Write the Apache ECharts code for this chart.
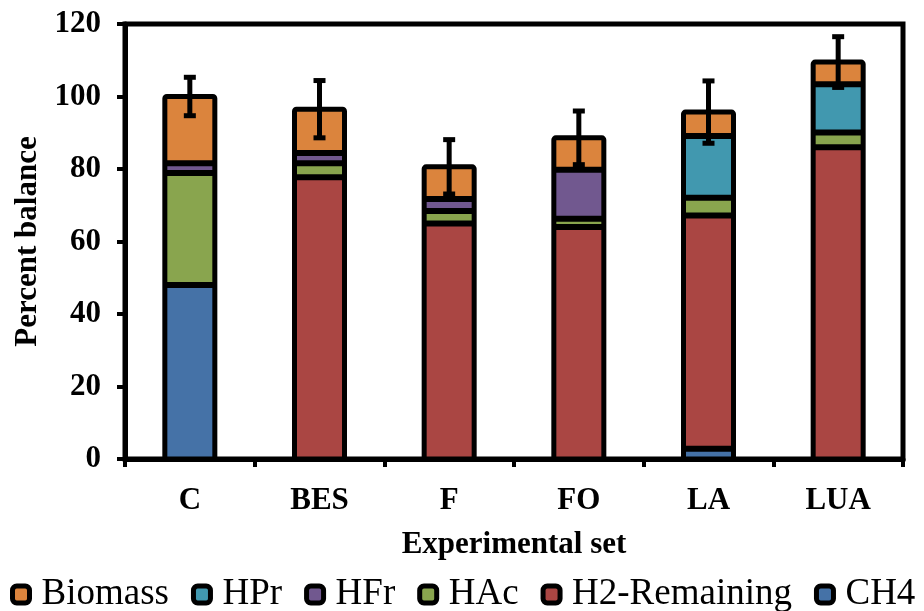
<!DOCTYPE html>
<html>
<head>
<meta charset="utf-8">
<script src="https://cdn.jsdelivr.net/npm/echarts@6/dist/echarts.min.js"></script>
<style>
  html, body { margin: 0; padding: 0; background: #fff; }
  #chart { width: 924px; height: 611px; }
</style>
</head>
<body>
<div id="chart"></div>
<script>
// Experimental sets on the x axis
const categories = ['C', 'BES', 'F', 'FO', 'LA', 'LUA'];

// Stacked components (percent of balance), bottom to top; '-' = component absent
const ch4         = [48.0, '-',  '-',  '-',  2.8,  '-'];
const h2Remaining = ['-',  77.7, 65.0, 64.0, 64.4, 86.0];
const hac         = [30.9, 3.9,  3.4,  2.3,  4.9,  4.1];
const hfr         = [2.7,  2.8,  3.3,  13.5, '-',  '-'];
const hpr         = ['-',  '-',  '-',  '-',  17.0, 13.3];
const biomass     = [18.4, 12.1, 8.9,  8.8,  6.6,  6.1];

// Error (+/-) on the total of each set
const totalError  = [5.3, 7.9, 7.5, 7.4, 8.6, 7.0];

const yTicks = { min: 0, max: 120, interval: 20 };

const seriesDefs = [
  { name: 'CH4',          data: ch4,         color: '#4572A7' },
  { name: 'H2-Remaining', data: h2Remaining, color: '#AA4643' },
  { name: 'HAc',          data: hac,         color: '#89A54E' },
  { name: 'HFr',          data: hfr,         color: '#71588F' },
  { name: 'HPr',          data: hpr,         color: '#4198AF' },
  { name: 'Biomass',      data: biomass,     color: '#DB843D' }
];
const legendOrder = ['Biomass', 'HPr', 'HFr', 'HAc', 'H2-Remaining', 'CH4'];

const num = v => (typeof v === 'number' ? v : 0);

// Running sums: the top of every present segment except the last one
const segmentCuts = categories.map((_, i) => {
  const cuts = [];
  let sum = 0;
  seriesDefs.forEach(d => {
    if (typeof d.data[i] === 'number') { sum += d.data[i]; cuts.push(sum); }
  });
  cuts.pop();
  return cuts;
});
const totals = categories.map((_, i) =>
  seriesDefs.reduce((s, d) => s + num(d.data[i]), 0));
const errorData = categories.map((_, i) => [i, totals[i], totalError[i]]);
const outlineData = categories.map((_, i) => [i, totals[i]]);

const FONT = "'Liberation Serif', 'Times New Roman', serif";
const BAR_W = 50;

const barSeries = seriesDefs.map(d => ({
  name: d.name,
  type: 'bar',
  stack: 'balance',
  barWidth: BAR_W,
  data: d.data,
  itemStyle: { color: d.color, borderWidth: 0 },
  emphasis: { disabled: true }
}));

// Heavy outline round each stacked column plus the separators between segments
const outlineSeries = {
  name: 'outline',
  type: 'custom',
  z: 5,
  data: outlineData,
  encode: { x: 0, y: 1 },
  renderItem: function (params, api) {
    const i = api.value(0);
    const top = api.coord([i, api.value(1)]);
    const base = api.coord([i, 0]);
    const x0 = top[0] - BAR_W / 2;
    const children = segmentCuts[params.dataIndex].map(v => {
      const y = api.coord([i, v])[1];
      return {
        type: 'line',
        shape: { x1: x0, y1: y, x2: x0 + BAR_W, y2: y },
        style: { stroke: '#000', lineWidth: 6 }
      };
    });
    children.push({
      type: 'rect',
      shape: { x: x0, y: top[1], width: BAR_W, height: base[1] - top[1], r: 2 },
      style: { fill: 'none', stroke: '#000', lineWidth: 5, lineJoin: 'round' }
    });
    return { type: 'group', children: children };
  }
};

const errorSeries = {
  name: 'error',
  type: 'custom',
  z: 10,
  data: errorData,
  encode: { x: 0, y: 1 },
  renderItem: function (params, api) {
    const i = api.value(0), t = api.value(1), e = api.value(2);
    const top = api.coord([i, t + e]);
    const bot = api.coord([i, t - e]);
    const half = 6;
    const st = { stroke: '#000', lineWidth: 5 };
    return {
      type: 'group',
      children: [
        { type: 'line', shape: { x1: top[0], y1: top[1], x2: bot[0], y2: bot[1] }, style: st },
        { type: 'line', shape: { x1: top[0] - half, y1: top[1], x2: top[0] + half, y2: top[1] }, style: st },
        { type: 'line', shape: { x1: bot[0] - half, y1: bot[1], x2: bot[0] + half, y2: bot[1] }, style: st }
      ]
    };
  }
};

const chart = echarts.init(document.getElementById('chart'));
chart.setOption({
  animation: false,
  backgroundColor: '#fff',
  grid: {
    left: 125, right: 21, top: 24, bottom: 152,
    show: true, borderColor: '#000', borderWidth: 5
  },
  legend: {
    data: legendOrder,
    left: 10,
    width: 914,
    top: 576,
    padding: 0,
    icon: 'roundRect',
    itemWidth: 17,
    itemHeight: 17,
    itemGap: 22,
    itemStyle: { borderColor: '#000', borderWidth: 5 },
    textStyle: { fontFamily: FONT, fontSize: 37, color: '#000', padding: [0, 0, 0, 7] },
    selectedMode: false
  },
  xAxis: {
    type: 'category',
    data: categories,
    name: 'Experimental set',
    nameLocation: 'middle',
    nameGap: 70,
    nameTextStyle: { fontFamily: FONT, fontSize: 31, fontWeight: 'bold', color: '#000' },
    axisLine: { lineStyle: { color: '#000', width: 5 } },
    axisTick: { show: true, length: 8, lineStyle: { color: '#000', width: 4 } },
    axisLabel: { fontFamily: FONT, fontSize: 31, fontWeight: 'bold', color: '#000', margin: 26 },
    splitLine: { show: false }
  },
  yAxis: {
    type: 'value',
    min: yTicks.min,
    max: yTicks.max,
    interval: yTicks.interval,
    name: 'Percent balance',
    nameLocation: 'middle',
    nameGap: 82,
    nameTextStyle: { fontFamily: FONT, fontSize: 31, fontWeight: 'bold', color: '#000' },
    axisLine: { show: true, lineStyle: { color: '#000', width: 5 } },
    axisTick: { show: true, length: 8, lineStyle: { color: '#000', width: 4 } },
    axisLabel: { fontFamily: FONT, fontSize: 31, fontWeight: 'bold', color: '#000', margin: 24 },
    splitLine: { show: false }
  },
  series: [...barSeries, outlineSeries, errorSeries]
});
</script>
</body>
</html>
